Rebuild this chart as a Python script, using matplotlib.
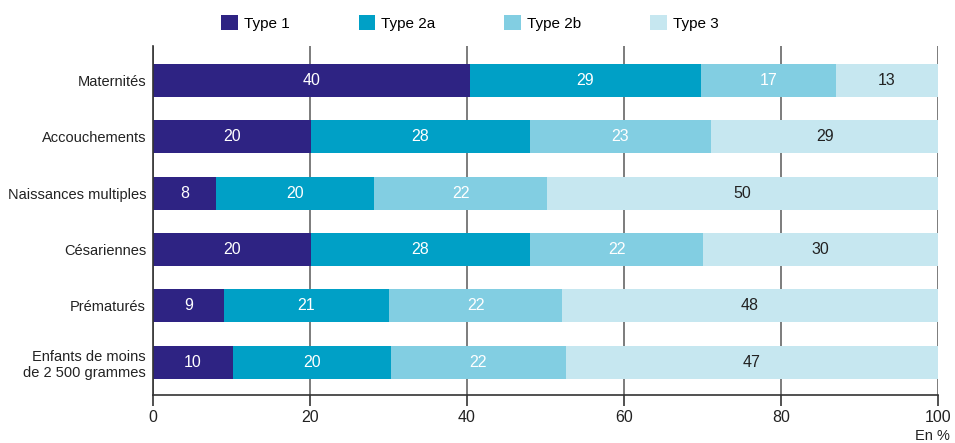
import matplotlib.pyplot as plt
import numpy as np

plt.rcParams['font.family'] = ['Liberation Sans', 'DejaVu Sans']

# Données (en %)
categories = ['Maternités', 'Accouchements', 'Naissances multiples',
              'Césariennes', 'Prématurés', 'Enfants de moins\nde 2 500 grammes']
type1 = [40.4, 20.1, 8.0, 20.1, 9.0, 10.2]
type2a = [29.4, 27.9, 20.2, 27.9, 21.1, 20.1]
type2b = [17.2, 23.1, 22.0, 22.1, 22.0, 22.3]
type3 = [13.0, 28.9, 49.8, 29.9, 47.9, 47.4]
series_names = ['Type 1', 'Type 2a', 'Type 2b', 'Type 3']
colors = ['#2e2383', '#00a0c6', '#82cee2', '#c6e7f0']
text_colors = ['white', 'white', 'white', '#222222']
xticks = [0, 20, 40, 60, 80, 100]

fig = plt.figure(figsize=(9.55, 4.43), dpi=100)
ax = fig.add_axes([153 / 955, 1 - 395 / 443, 785 / 955, 349 / 443])

y = np.arange(len(categories))
left = np.zeros(len(categories))
for vals, name, c, tc in zip([type1, type2a, type2b, type3], series_names, colors, text_colors):
    vals = np.array(vals)
    ax.barh(y, vals, left=left, height=0.585, color=c, label=name, zorder=2)
    for yi, l, v in zip(y, left, vals):
        ax.text(l + v / 2, yi, f'{v:.0f}', ha='center', va='center',
                color=tc, fontsize=11.5, zorder=3)
    left += vals

ax.set_xlim(0, 100)
ax.set_ylim(5.58, -0.61)
ax.set_yticks(y)
ax.set_yticklabels(categories, fontsize=10.5, color='#222222', linespacing=1.2)
ax.tick_params(axis='y', length=0, pad=5)
ax.set_xticks(xticks)
ax.set_xticklabels([str(t) for t in xticks], fontsize=11.5, color='#222222')
ax.tick_params(axis='x', length=8, width=1.2, color='#333333', pad=3)
ax.grid(axis='x', color='#666666', linewidth=1.2, zorder=0)
for s in ['top', 'right']:
    ax.spines[s].set_visible(False)
for s in ['left', 'bottom']:
    ax.spines[s].set_color('#333333')
    ax.spines[s].set_linewidth(1.2)

fig.text(950 / 955, 1 - 436 / 443, 'En %', ha='right', va='center',
         fontsize=10.5, color='#222222')

fig.legend(loc='center', bbox_to_anchor=(470 / 955, 1 - 23 / 443), ncol=4,
           frameon=False, fontsize=11, handlelength=1.1, handleheight=1.1,
           handletextpad=0.4, columnspacing=4.5)

fig.savefig('out.png', dpi=100)
